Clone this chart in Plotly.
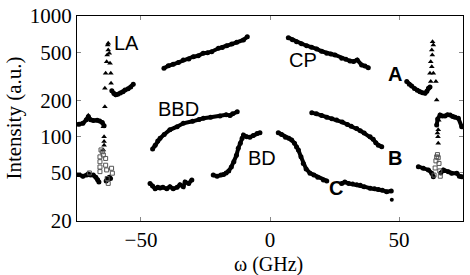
import plotly.graph_objects as go
import math

# ---------------- data ----------------
# Series A (top): LA peak region and CP curves
a_left_x = [-61.3, -60.5, -59.8, -59.0, -58.0, -57.0, -56.2, -55.0, -54.0, -53.0]
a_left_y = [240, 228, 222, 225, 230, 236, 244, 250, 258, 272]
cp_left_x = [-41.1, -39.4, -37.5, -35.5, -33.6, -31.5, -29.7, -27.8, -25.9, -24.2, -22.6, -20.0, -18.5, -16.8, -14.8, -12.9, -10.3, -8.8]
cp_left_y = [369, 387, 398, 412, 432, 440, 460, 468, 491, 497, 506, 540, 548, 567, 585, 605, 633, 674]
cp_right_x = [7.1, 8.7, 10.3, 12.2, 14.2, 16.1, 18.1, 20.0, 22.0, 23.6, 25.2, 27.8, 29.4, 31.0, 32.4, 33.8, 35.5, 36.8, 38.1]
cp_right_y = [661, 635, 612, 590, 567, 552, 533, 510, 491, 484, 475, 446, 438, 424, 420, 432, 393, 385, 373]
a_right_x = [53.0, 54.0, 54.9, 56.0, 57.1, 58.1, 59.1, 60.1, 60.8, 61.4, 62.0]
a_right_y = [286, 272, 263, 251, 243, 236, 231, 229, 238, 252, 258]
la_left_x = [-64.0, -64.0, -63.7, -63.3, -63.1, -62.7, -62.9, -62.7, -62.3, -62.0, -61.7, -61.6]
la_left_y = [177, 252, 335, 418, 475, 523, 575, 594, 491, 406, 335, 277]
la_right_x = [63.0, 63.3, 62.7, 62.9, 62.3, 62.7, 62.0, 63.3, 62.3, 64.3, 64.6]
la_right_y = [612, 575, 523, 475, 418, 380, 335, 335, 286, 286, 201]

# Series B (middle): BBD curves
b_left_x = [-75.6, -74.0, -72.5, -71.2, -70.4, -69.5, -68.5, -67.0, -66.0, -65.0, -64.3]
b_left_y = [125, 127, 129, 138, 147, 138, 136, 137, 135, 131, 123]
b_left_tri_x = [-64.6, -64.3, -64.3, -64.3, -64.6]
b_left_tri_y = [121, 100, 91, 85, 77.6]
bbd_x = [-45.5, -44.5, -43.5, -42.6, -41.0, -38.8, -36.0, -33.6, -30.0, -27.5, -25.8, -23.0, -19.4, -17.0, -15.5, -14.5, -12.7]
bbd_y = [79, 85, 92, 97, 104, 114, 121, 129, 134, 139, 142, 145, 148, 152, 150, 155, 161]
b_right_x = [16.2, 18.0, 20.0, 22.0, 24.0, 25.8, 28.0, 30.0, 31.5, 33.6, 35.0, 36.5, 38.8, 40.0, 41.0, 42.0, 43.3]
b_right_y = [158, 155, 150, 145, 141, 137.5, 132, 126, 122, 117, 112, 107, 100, 95, 89, 85, 82.6]
b_right_tri_x = [65.4, 65.2, 65.1, 65.2, 64.9]
b_right_tri_y = [137, 114, 100, 88, 107]
b_edge_x = [64.6, 65.0, 65.9, 66.8, 67.8, 68.8, 69.8, 70.8, 71.7, 73.0, 74.3]
b_edge_y = [125, 140, 151, 148, 148, 152, 151, 147, 145, 142, 121]

# Series C (bottom): BD curves
c_left_x = [-75.5, -74.0, -72.5, -71.0, -70.4, -69.5, -68.5, -67.5, -66.8, -66.3]
c_left_y = [48, 48.5, 47, 48, 49, 48, 48, 46, 44, 42]
c_left2_x = [-63.5, -63.0, -62.3, -61.8]
c_left2_y = [43, 45, 46, 45]
sq_left_x = [-70.0, -65.9, -65.9, -65.9, -65.9, -65.5, -65.0, -64.6, -63.7, -63.7, -63.3, -63.1, -62.7, -61.4, -61.1]
sq_left_y = [50, 51.3, 56, 62, 68, 77.6, 75, 70.5, 66, 58, 53, 45, 41, 54.7, 49.8]
c_mid_x = [-46.5, -45.5, -44.5, -43.5, -42.6, -41.5, -40.0, -38.8, -37.5, -36.0, -34.9, -33.6, -32.9, -31.5, -30.3]
c_mid_y = [41, 39, 37, 38, 37.5, 38, 37, 38.5, 37, 38, 40, 38.5, 42, 41, 43.8]
bd_left_x = [-22.0, -20.5, -19.0, -18.0, -17.0, -16.0, -15.0, -14.0, -13.0, -12.3, -11.5, -10.8, -10.3, -9.0, -7.8, -6.5, -5.0, -3.9]
bd_left_y = [48, 47, 48, 48.5, 50, 52, 56, 62, 70, 80, 88, 97, 103, 100, 99, 102, 106, 108]
bd_right_x = [3.2, 4.5, 6.0, 7.3, 8.4, 9.5, 10.3, 11.0, 12.0, 12.9, 14.0, 15.5, 17.0, 18.5, 20.7, 22.0,
              None, 27.8, 29.0, 30.5, 32.0, 33.6, 35.0, 36.5, 38.8, 40.5, 42.0, 43.5, 45.2, 47.0]
bd_right_y = [108, 104, 99, 97, 94, 88, 82, 77.6, 68, 60, 54, 49.8, 48, 46, 43.8, 43,
              None, 41, 42, 41, 40.5, 40, 39.5, 38.5, 37.4, 37, 36.5, 36, 35, 35.5]
c_stray_x = [47.2]
c_stray_y = [30]
c_right_x = [57.5, 59.4, 61.4, 62.7, 63.3]
c_right_y = [56.4, 54.7, 53, 49.8, 46.6]
c_right2_x = [66.2, 67.2, 69.1, 70.4, 72.4, 73.4, 74.3]
c_right2_y = [50, 53, 51.3, 49.8, 49.8, 47, 46.6]
sq_right_x = [63.6, 64.0, 64.3, 64.6, 64.9, 65.2, 65.5, 65.8, 66.0]
sq_right_y = [48, 55, 63, 68, 71, 67, 60, 52, 47]

x_ticks = [-50, 0, 50]
y_ticks = [20, 50, 100, 200, 500, 1000]
y_tick_text = ["20", "50", "100", "200", "500", "1000"]

# ---------------- figure ----------------
fig = go.Figure()

line_sets = [
    (a_left_x, a_left_y), (cp_left_x, cp_left_y), (cp_right_x, cp_right_y), (a_right_x, a_right_y),
    (b_left_x, b_left_y), (bbd_x, bbd_y), (b_right_x, b_right_y), (b_edge_x, b_edge_y),
    (c_left_x, c_left_y), (c_left2_x, c_left2_y), (c_mid_x, c_mid_y), (bd_left_x, bd_left_y),
    (bd_right_x, bd_right_y), (c_right_x, c_right_y), (c_right2_x, c_right2_y),
]
for xs, ys in line_sets:
    fig.add_trace(go.Scatter(x=xs, y=ys, mode="lines+markers",
                             line=dict(color="black", width=4),
                             marker=dict(color="black", size=5),
                             connectgaps=False, showlegend=False))

fig.add_trace(go.Scatter(x=c_stray_x, y=c_stray_y, mode="markers",
                         marker=dict(color="black", size=4), showlegend=False))

for xs, ys in [(la_left_x, la_left_y), (la_right_x, la_right_y),
               (b_left_tri_x, b_left_tri_y), (b_right_tri_x, b_right_tri_y)]:
    fig.add_trace(go.Scatter(x=xs, y=ys, mode="markers",
                             marker=dict(symbol="triangle-up", color="black", size=5),
                             showlegend=False))

for xs, ys in [(sq_left_x, sq_left_y), (sq_right_x, sq_right_y)]:
    fig.add_trace(go.Scatter(x=xs, y=ys, mode="markers",
                             marker=dict(symbol="square-open", color="#555555", size=4,
                                         line=dict(width=1, color="#555555")),
                             showlegend=False))

serif = "Liberation Serif, Times New Roman, serif"
sans = "Liberation Sans, Arial, sans-serif"

labels = [
    ("LA", -55.5, 2.793, False),
    ("CP", 12.9, 2.656, False),
    ("BBD", -35.3, 2.244, False),
    ("BD", -3.2, 1.842, False),
    ("A", 48.4, 2.539, True),
    ("B", 48.4, 1.842, True),
    ("C", 25.5, 1.593, True),
]
for txt, lx, ly, bold in labels:
    fig.add_annotation(x=lx, y=ly, xref="x", yref="y", text=f"<b>{txt}</b>" if bold else txt,
                       showarrow=False, xanchor="center", yanchor="middle", yshift=-2,
                       font=dict(family=sans, size=20, color="black"))

fig.add_annotation(x=0.497, y=-0.213, xref="paper", yref="paper", text="ω (GHz)",
                   showarrow=False, xanchor="center", yanchor="middle",
                   font=dict(family=serif, size=20, color="black"))
fig.add_annotation(x=-0.162, y=0.502, xref="paper", yref="paper", text="Intensity (a.u.)",
                   showarrow=False, xanchor="center", yanchor="middle", textangle=-90,
                   font=dict(family=serif, size=21, color="black"))

fig.update_xaxes(range=[-74.8, 74.8], tickvals=x_ticks, ticks="inside", ticklen=4,
                 tickcolor="#888888", tickwidth=1, showline=True, linecolor="black",
                 linewidth=1.3, mirror="ticks", showgrid=False, zeroline=False,
                 automargin=False,
                 tickfont=dict(family=serif, size=21, color="black"))
fig.update_yaxes(type="log", range=[math.log10(20), 3], tickvals=y_ticks, ticktext=y_tick_text,
                 ticks="inside", ticklen=4, tickcolor="#888888", tickwidth=1, showline=True,
                 linecolor="black", linewidth=1.3, mirror="ticks", showgrid=False,
                 zeroline=False, automargin=False,
                 tickfont=dict(family=serif, size=21, color="black"))

fig.update_layout(width=470, height=275, margin=dict(l=77, r=7, t=16, b=54, autoexpand=False),
                  paper_bgcolor="white", plot_bgcolor="white", showlegend=False)

fig.write_html("out.html", config={"displayModeBar": False},
               post_script="document.body.style.margin='0';document.body.style.overflow='hidden';")
